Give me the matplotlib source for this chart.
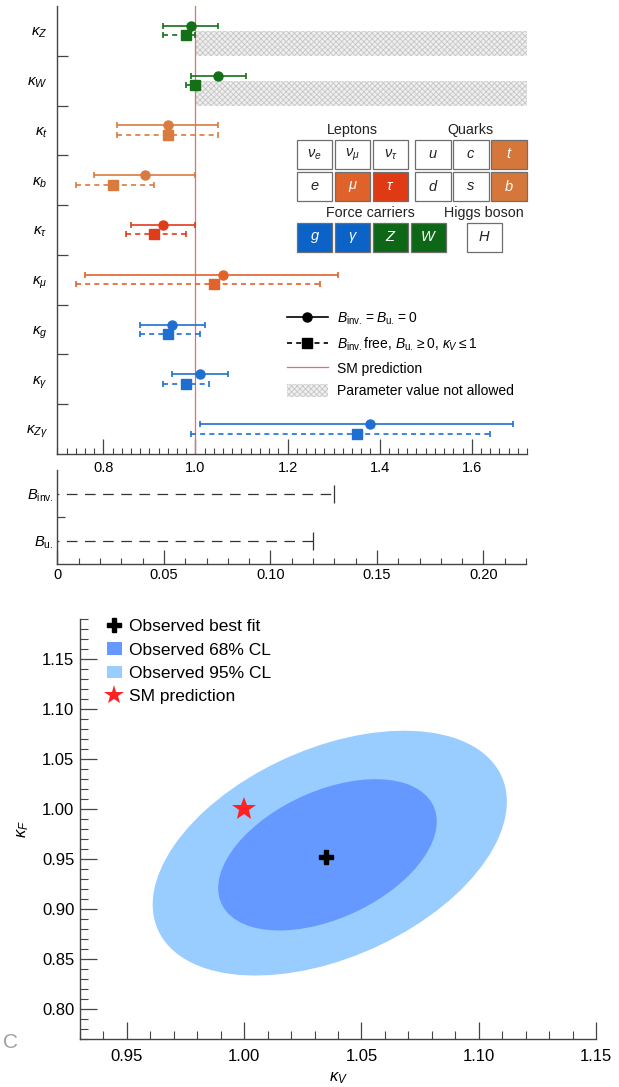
import numpy as np
import matplotlib.pyplot as plt
from matplotlib.lines import Line2D
from matplotlib.patches import Patch, Rectangle, Ellipse
from matplotlib.transforms import Affine2D
from matplotlib.ticker import MultipleLocator

plt.rcParams['font.family'] = ['Liberation Sans', 'DejaVu Sans']
plt.rcParams['mathtext.fontset'] = 'custom'
plt.rcParams['mathtext.rm'] = 'Liberation Sans'
plt.rcParams['mathtext.it'] = 'Liberation Sans:italic'
plt.rcParams['mathtext.bf'] = 'Liberation Sans:bold'
plt.rcParams['mathtext.fallback'] = 'stixsans'
plt.rcParams['hatch.linewidth'] = 0.6

# coupling modifiers, top to bottom
couplings = [r'$\kappa_Z$', r'$\kappa_W$', r'$\kappa_t$', r'$\kappa_b$', r'$\kappa_\tau$',
             r'$\kappa_\mu$', r'$\kappa_g$', r'$\kappa_\gamma$', r'$\kappa_{Z\gamma}$']
# fit with B_inv = B_u = 0
fit1_val = [0.99, 1.05, 0.94, 0.89, 0.93, 1.06, 0.95, 1.01, 1.38]
fit1_lo = [0.93, 0.99, 0.83, 0.78, 0.86, 0.76, 0.88, 0.95, 1.01]
fit1_hi = [1.05, 1.11, 1.05, 1.00, 1.00, 1.31, 1.02, 1.07, 1.69]
# fit with B_inv free, B_u >= 0, kappa_V <= 1
fit2_val = [0.98, 1.00, 0.94, 0.82, 0.91, 1.04, 0.94, 0.98, 1.35]
fit2_lo = [0.93, 0.98, 0.83, 0.74, 0.85, 0.74, 0.88, 0.93, 0.99]
fit2_hi = [1.00, 1.00, 1.05, 0.91, 0.98, 1.27, 1.01, 1.03, 1.64]
green, orange, redor, red, blue = '#137017', '#d97a3e', '#e2622b', '#e03c1c', '#1f6fd1'
row_colors = [green, green, orange, orange, red, redor, blue, blue, blue]
restricted = [0, 1]  # kappa_V <= 1 in the second fit

# branching-ratio upper limits
br_labels = [r'$B_{\rm inv.}$', r'$B_{\rm u.}$']
br_limits = [0.13, 0.12]

# kappa_V - kappa_F plane
best_fit = (1.035, 0.952)
sm_point = (1.0, 1.0)
# centre kV, centre kF, half-width, half-height, correlation
cl68 = (1.0355, 0.9543, 0.0466, 0.0757, 0.44)
cl95 = (1.0365, 0.9560, 0.0755, 0.1225, 0.42)

W, H = 619, 1087
fig = plt.figure(figsize=(W / 100, H / 100), dpi=100)


def px_axes(l, t, r, b):
    ax = fig.add_axes([l / W, 1 - b / H, (r - l) / W, (b - t) / H])
    ax.patch.set_alpha(0)
    return ax


def style(ax):
    for s in ['top', 'right']:
        ax.spines[s].set_visible(False)
    for s in ['left', 'bottom']:
        ax.spines[s].set_color('#444444')
        ax.spines[s].set_linewidth(1.0)


sm_red = '#ec6b63'

# ---- coupling modifiers ----
ax1 = px_axes(57.3, 6, 527, 454)
style(ax1)
ax1.set_xlim(0.70, 1.72)
ax1.set_ylim(8.5, -0.5)
rows = np.arange(len(couplings))
for i in restricted:
    ax1.add_patch(Rectangle((1.0, i), 0.72, 0.5, facecolor='#efefef', edgecolor='#c6c6c6',
                            hatch='xxxxxx', lw=0, zorder=1))
ax1.axvline(1.0, color=sm_red, lw=0.9, zorder=2)
for i in rows:
    c = row_colors[i]
    ax1.errorbar(fit1_val[i], i - 0.1,
                 xerr=[[fit1_val[i] - fit1_lo[i]], [fit1_hi[i] - fit1_val[i]]],
                 fmt='o', color=c, ms=6.5, lw=1.2, capsize=2.5, capthick=1.2, zorder=3)
    eb = ax1.errorbar(fit2_val[i], i + 0.09,
                      xerr=[[fit2_val[i] - fit2_lo[i]], [fit2_hi[i] - fit2_val[i]]],
                      fmt='s', color=c, ms=6.5, lw=1.2, capsize=2.5, capthick=1.2, zorder=3)
    eb[2][0].set_linestyle((0, (3, 2.5)))

ax1.set_xticks([0.8, 1.0, 1.2, 1.4, 1.6], ['0.8', '1.0', '1.2', '1.4', '1.6'])
ax1.xaxis.set_minor_locator(MultipleLocator(0.02))
ax1.tick_params(axis='x', which='major', direction='in', length=11, width=0.9,
                labelsize=10.5, pad=5, color='#444444')
ax1.tick_params(axis='x', which='minor', direction='in', length=4, width=0.8, color='#444444')
ax1.set_yticks(rows[:-1] + 0.5)
ax1.set_yticks(rows, labels=couplings, minor=True)
ax1.tick_params(axis='y', which='major', direction='in', length=8, width=0.9,
                labelleft=False, color='#444444')
ax1.tick_params(axis='y', which='minor', length=0, labelsize=11, pad=7)

handles = [
    Line2D([], [], color='black', lw=1.2, marker='o', ms=6.5),
    Line2D([], [], color='black', lw=1.2, ls=(0, (3, 2.5)), marker='s', ms=6.5),
    Line2D([], [], color=sm_red, lw=0.9),
    Patch(facecolor='#efefef', edgecolor='#c6c6c6', hatch='xxxxxx', lw=0),
]
labels = [r'$B_{\rm inv.} = B_{\rm u.} = 0$',
          r'$B_{\rm inv.}$free, $B_{\rm u.} \geq 0$, $\kappa_V \leq 1$',
          'SM prediction', 'Parameter value not allowed']
fig.legend(handles, labels, loc='upper left', bbox_to_anchor=(286.7 / W, 1 - 311 / H),
           frameon=False, fontsize=10, numpoints=1, handlelength=2.95, handleheight=1.15,
           handletextpad=0.7, labelspacing=0.58, borderpad=0, borderaxespad=0)

# ---- particle table ----
tab = fig.add_axes([0, 0, 1, 1])
tab.set_xlim(0, W)
tab.set_ylim(H, 0)
tab.axis('off')

leptons = [[r'$\nu_e$', r'$\nu_\mu$', r'$\nu_\tau$'], ['$e$', r'$\mu$', r'$\tau$']]
lepton_fill = [['white', 'white', 'white'], ['white', '#e0622b', '#e03a14']]
quarks = [['$u$', '$c$', '$t$'], ['$d$', '$s$', '$b$']]
quark_fill = [['white', 'white', '#d5773a'], ['white', 'white', '#d5773a']]
carriers = ['$g$', r'$\gamma$', '$Z$', '$W$']
carrier_fill = ['#0b63c8', '#0b63c8', '#0e6617', '#0e6617']

cw, ch, sx, sy = 35.7, 29, 38, 31.7


def cell(x, y, text, fill):
    tab.add_patch(Rectangle((x, y), cw, ch, facecolor=fill, edgecolor='#6e6e6e', lw=0.9))
    tab.text(x + cw / 2, y + ch / 2, text, ha='center', va='center', fontsize=10.5,
             color='#222222' if fill == 'white' else 'white')


for r in range(2):
    for c in range(3):
        cell(296.7 + c * sx, 140 + r * sy, leptons[r][c], lepton_fill[r][c])
        cell(415 + c * sx, 140 + r * sy, quarks[r][c], quark_fill[r][c])
for c in range(4):
    cell(296.7 + c * sx, 222.7, carriers[c], carrier_fill[c])
cell(466.7, 222.7, '$H$', 'white')
for x, y, t in [(352.7, 130, 'Leptons'), (470, 130, 'Quarks'),
                (370.7, 213, 'Force carriers'), (484, 213, 'Higgs boson')]:
    tab.text(x, y, t, ha='center', va='center', fontsize=10.3, color='#222222')

# ---- branching ratios ----
ax2 = px_axes(57.5, 470, 526, 564)
style(ax2)
ax2.set_xlim(0, 0.22)
ax2.set_ylim(1.5, -0.5)
for i, lim in enumerate(br_limits):
    ax2.plot([0, lim], [i, i], color='#333333', lw=0.9, ls=(7, (8.5, 6)))
    ax2.plot(lim, i, marker='|', ms=12.5, mew=0.9, color='#333333')
ax2.set_xticks([0, 0.05, 0.10, 0.15, 0.20], ['0', '0.05', '0.10', '0.15', '0.20'])
ax2.xaxis.set_minor_locator(MultipleLocator(0.01))
ax2.tick_params(axis='x', which='major', direction='in', length=10, width=0.9,
                labelsize=10.5, pad=3, color='#444444')
ax2.tick_params(axis='x', which='minor', direction='in', length=4, width=0.8, color='#444444')
ax2.set_yticks([0.5])
ax2.set_yticks([0, 1], labels=br_labels, minor=True)
ax2.tick_params(axis='y', which='major', direction='in', length=6, width=0.9,
                labelleft=False, color='#444444')
ax2.tick_params(axis='y', which='minor', length=0, labelsize=10.5, pad=3)

# ---- kappa_V vs kappa_F ----
ax3 = px_axes(80, 619.3, 596, 1039)
style(ax3)
ax3.set_xlim(0.93, 1.15)
ax3.set_ylim(0.77, 1.19)
for (cx, cy, hx, hy, rho), color in [(cl95, '#99ccff'), (cl68, '#6699ff')]:
    m = np.array([[hx, 0, cx], [hy * rho, hy * np.sqrt(1 - rho ** 2), cy], [0, 0, 1]])
    ax3.add_patch(Ellipse((0, 0), 2, 2, transform=Affine2D(m) + ax3.transData,
                          facecolor=color, edgecolor='none'))
ax3.plot(*best_fit, marker='P', color='black', ms=10, ls='none', zorder=4)
ax3.plot(*sm_point, marker='*', color='#ff2222', ms=18, mew=0, ls='none', zorder=4)

ax3.set_xticks([0.95, 1.00, 1.05, 1.10, 1.15], ['0.95', '1.00', '1.05', '1.10', '1.15'])
ax3.set_yticks([0.80, 0.85, 0.90, 0.95, 1.00, 1.05, 1.10, 1.15],
               ['0.80', '0.85', '0.90', '0.95', '1.00', '1.05', '1.10', '1.15'])
ax3.xaxis.set_minor_locator(MultipleLocator(0.01))
ax3.yaxis.set_minor_locator(MultipleLocator(0.01))
ax3.tick_params(which='major', direction='in', length=12, width=0.9, labelsize=12,
                color='#444444')
ax3.tick_params(axis='x', which='major', pad=7)
ax3.tick_params(axis='y', which='major', pad=4)
ax3.tick_params(which='minor', direction='in', length=6, width=0.8, color='#444444')
ax3.set_xlabel(r'$\kappa_V$', fontsize=12, labelpad=5)
ax3.set_ylabel(r'$\kappa_F$', fontsize=12, labelpad=8)

h3 = [Line2D([], [], marker='P', color='black', ms=10, ls='none'),
      Patch(facecolor='#6699ff'), Patch(facecolor='#99ccff'),
      Line2D([], [], marker='*', color='#ff2222', ms=15, mew=0, ls='none')]
l3 = ['Observed best fit', 'Observed 68% CL', 'Observed 95% CL', 'SM prediction']
ax3.legend(h3, l3, loc='upper left', bbox_to_anchor=(107 / W, 1 - 619 / H),
           bbox_transform=fig.transFigure, frameon=False, fontsize=12.5,
           handlelength=0.85, handleheight=0.76, handletextpad=0.43, labelspacing=0.45,
           borderpad=0, borderaxespad=0)

fig.text(3 / W, 1 - 1042 / H, 'C', color='#a0a0a0', fontsize=15, va='center', ha='left')

fig.savefig('out.png', dpi=100)
